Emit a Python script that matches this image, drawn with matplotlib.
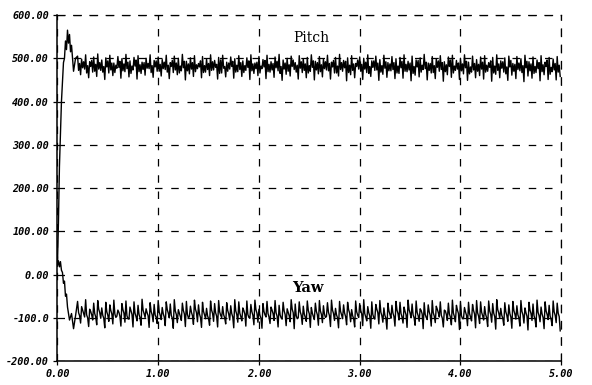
#!/usr/bin/env python3
# -*- coding: utf-8 -*-

import numpy as np
import matplotlib
matplotlib.use("Agg")
import matplotlib.pyplot as plt
from matplotlib.font_manager import FontProperties

# start-up transients (time, value)
pitch_start_t = [0.0, 0.01, 0.02, 0.04, 0.06, 0.07, 0.08, 0.09, 0.10, 0.11, 0.12, 0.13, 0.14, 0.16, 0.18]
pitch_start_v = [20, 120, 250, 400, 490, 500, 540, 520, 565, 535, 555, 515, 530, 470, 500]

yaw_start_t = [0.0, 0.01, 0.02, 0.03, 0.04, 0.05, 0.06, 0.07, 0.08, 0.09, 0.10, 0.12, 0.14, 0.16, 0.18]
yaw_start_v = [20, 32, 18, 30, 10, 5, -20, -15, -50, -45, -75, -105, -90, -125, -95]

# steady oscillation from t = 0.20, every 0.01 s, read as 4-point groups:
# top of upper band, bottom of upper band, top of lower band, bottom of lower band
pitch_top = [
    505, 498, 508, 492, 503, 510, 496, 501, 507, 489, 504, 499, 509, 494, 502, 506, 491, 500, 508, 495,
    503, 497, 507, 490, 505, 500, 509, 493, 501, 506, 488, 504, 498, 508, 495, 502, 507, 491, 503, 499,
    506, 494, 501, 508, 489, 504, 497, 507, 492, 503, 509, 496, 500, 505, 490, 506, 499, 502, 508, 493,
    504, 498, 507, 491, 502, 509, 495, 501, 506, 488, 503, 500, 508, 494, 505, 497, 507, 490, 504, 499,
    502, 508, 493, 505, 496, 501, 509, 489, 504, 498, 506, 492, 503, 507, 495, 500, 508, 491, 505, 497,
    503, 506, 490, 502, 508, 494, 501, 505, 488, 504, 499, 507, 492, 503, 496, 506, 491, 502, 498, 504,
]
pitch_upper_low = [
    472, 478, 466, 481, 470, 475, 468, 480, 473, 467, 479, 471, 476, 465, 482, 469, 474, 477, 467, 480,
    470, 476, 468, 481, 473, 466, 478, 471, 475, 469, 480, 467, 474, 472, 479, 465, 477, 470, 481, 468,
    474, 467, 479, 471, 476, 466, 480, 469, 473, 478, 465, 475, 470, 481, 468, 477, 472, 466, 479, 473,
    469, 476, 471, 480, 466, 474, 478, 467, 472, 481, 470, 475, 465, 479, 473, 468, 477, 471, 474, 466,
    478, 470, 473, 465, 480, 468, 476, 472, 467, 479, 474, 469, 481, 466, 475, 471, 478, 464, 473, 470,
    475, 468, 479, 466, 472, 477, 464, 480, 470, 474, 467, 478, 471, 465, 476, 469, 481, 463, 473, 468,
]
pitch_lower_high = [
    488, 492, 483, 495, 486, 490, 481, 494, 489, 484, 493, 487, 491, 482, 496, 485, 490, 488, 483, 494,
    486, 491, 484, 495, 489, 482, 493, 487, 490, 485, 494, 483, 488, 492, 486, 496, 481, 489, 493, 484,
    490, 483, 494, 487, 491, 482, 495, 486, 488, 493, 481, 489, 485, 496, 484, 492, 487, 483, 494, 490,
    485, 492, 488, 495, 482, 490, 493, 484, 487, 496, 486, 491, 481, 494, 489, 483, 492, 487, 490, 482,
    493, 486, 489, 481, 495, 484, 491, 488, 483, 494, 490, 485, 496, 482, 489, 487, 493, 480, 488, 486,
    491, 484, 494, 482, 487, 492, 480, 495, 486, 489, 483, 493, 487, 481, 490, 485, 496, 479, 488, 484,
]
pitch_bottom = [
    462, 475, 455, 468, 458, 472, 451, 466, 460, 477, 454, 469, 457, 473, 452, 465, 461, 476, 456, 470,
    459, 474, 453, 467, 462, 471, 450, 464, 458, 476, 455, 468, 460, 473, 452, 466, 457, 475, 454, 469,
    458, 472, 451, 465, 460, 476, 453, 468, 456, 471, 449, 463, 459, 474, 452, 467, 455, 470, 450, 464,
    457, 473, 452, 466, 459, 470, 448, 462, 455, 475, 451, 467, 458, 472, 449, 463, 456, 471, 453, 465,
    454, 469, 448, 461, 457, 474, 450, 466, 453, 470, 447, 462, 456, 472, 451, 464, 449, 468, 455, 460,
    452, 470, 447, 463, 455, 468, 449, 461, 453, 471, 446, 459, 454, 467, 448, 462, 451, 469, 450, 458,
]

yaw_top = [
    -62, -74, -58, -80, -66, -60, -77, -64, -70, -59, -82, -67, -61, -75, -63, -71, -57, -79, -65, -69,
    -60, -76, -63, -68, -58, -81, -66, -62, -73, -59, -70, -64, -78, -61, -67, -60, -74, -65, -72, -58,
    -63, -77, -61, -69, -59, -80, -67, -62, -75, -60, -71, -64, -79, -58, -68, -63, -73, -61, -76, -66,
    -60, -72, -65, -59, -78, -62, -70, -64, -81, -61, -67, -58, -74, -63, -69, -60, -77, -66, -71, -62,
    -64, -75, -59, -68, -61, -79, -65, -70, -60, -73, -63, -82, -66, -59, -71, -62, -76, -64, -69, -60,
    -63, -74, -61, -67, -58, -78, -65, -70, -62, -72, -60, -77, -64, -68, -59, -75, -63, -71, -61, -66,
]
yaw_upper_low = [
    -88, -82, -93, -85, -90, -80, -94, -86, -83, -91, -87, -81, -95, -84, -89, -92, -82, -88, -85, -93,
    -86, -90, -81, -94, -84, -89, -83, -92, -87, -80, -91, -85, -95, -82, -88, -86, -93, -83, -90, -84,
    -89, -83, -92, -86, -81, -94, -85, -90, -82, -88, -93, -84, -87, -80, -95, -86, -91, -83, -89, -85,
    -84, -91, -87, -82, -93, -85, -89, -81, -95, -86, -83, -90, -88, -92, -80, -87, -94, -84, -89, -82,
    -90, -85, -81, -93, -87, -83, -92, -86, -88, -80, -94, -84, -91, -89, -82, -95, -86, -90, -83, -88,
    -87, -92, -84, -89, -81, -94, -86, -90, -83, -93, -85, -88, -82, -95, -87, -91, -84, -96, -86, -89,
]
yaw_lower_high = [
    -95, -90, -100, -93, -98, -88, -101, -94, -91, -99, -96, -89, -102, -92, -97, -100, -90, -95, -93, -99,
    -94, -98, -89, -101, -92, -97, -91, -100, -95, -88, -99, -93, -102, -90, -96, -94, -100, -91, -98, -92,
    -97, -91, -99, -94, -89, -101, -93, -98, -90, -96, -100, -92, -95, -88, -102, -94, -99, -91, -97, -93,
    -92, -99, -95, -90, -100, -93, -97, -89, -102, -94, -91, -98, -96, -100, -88, -95, -101, -92, -97, -90,
    -98, -93, -89, -100, -95, -91, -99, -94, -96, -88, -101, -92, -98, -97, -90, -102, -94, -98, -91, -96,
    -95, -100, -92, -97, -89, -101, -94, -98, -91, -100, -93, -96, -90, -103, -95, -99, -92, -104, -94, -97,
]
yaw_bottom = [
    -112, -98, -120, -105, -116, -101, -123, -108, -114, -96, -119, -110, -103, -121, -107, -117, -99, -122, -109, -113,
    -104, -118, -100, -124, -111, -106, -120, -97, -115, -109, -122, -102, -117, -108, -121, -99, -114, -105, -123, -110,
    -107, -119, -101, -116, -110, -124, -98, -113, -106, -121, -103, -118, -109, -125, -100, -115, -108, -122, -104, -117,
    -111, -97, -120, -106, -123, -102, -116, -109, -121, -99, -118, -107, -124, -103, -114, -110, -126, -101, -119, -105,
    -112, -122, -100, -117, -108, -125, -104, -119, -111, -98, -121, -106, -116, -109, -127, -102, -118, -107, -123, -113,
    -105, -120, -110, -126, -101, -117, -108, -124, -103, -119, -112, -128, -106, -121, -109, -125, -104, -118, -111, -130,
]

x_ticks = [0, 1, 2, 3, 4, 5]
x_labels = ["0.00", "1.00", "2.00", "3.00", "4.00", "5.00"]
y_ticks = [600, 500, 400, 300, 200, 100, 0, -100, -200]
y_labels = ["600.00", "500.00", "400.00", "300.00", "200.00", "100.00", "0.00", "-100.0", "-200.00"]

OSC_START = 0.20
STEP = 0.01


def build(start_t, start_v, top, upper_low, lower_high, bottom):
    groups = np.column_stack([top, upper_low, lower_high, bottom]).ravel()
    t_osc = OSC_START + STEP * np.arange(len(groups))
    return np.concatenate([start_t, t_osc]), np.concatenate([start_v, groups])


def main():
    fig = plt.figure(figsize=(5.92, 3.85), dpi=100)
    ax = fig.add_axes([0.097, 0.062, 0.851, 0.899])

    t, v = build(pitch_start_t, pitch_start_v, pitch_top, pitch_upper_low,
                 pitch_lower_high, pitch_bottom)
    ax.plot(t, v, color="black", lw=1.0)
    t, v = build(yaw_start_t, yaw_start_v, yaw_top, yaw_upper_low,
                 yaw_lower_high, yaw_bottom)
    ax.plot(t, v, color="black", lw=1.0)

    ax.set_xlim(0, 5)
    ax.set_ylim(-200, 600)
    ax.set_xticks(x_ticks)
    ax.set_xticklabels(x_labels)
    ax.set_yticks(y_ticks)
    ax.set_yticklabels(y_labels)

    tick_font = FontProperties(family="DejaVu Sans Mono", weight="bold", style="italic", size=7.3)
    for lab in ax.get_xticklabels() + ax.get_yticklabels():
        lab.set_fontproperties(tick_font)
    ax.tick_params(axis="both", length=3, width=0.9, pad=3, colors="black")

    ax.grid(True, color="black", lw=0.9, linestyle=(0, (6, 7)))
    for side in ("top", "right"):
        ax.spines[side].set_linestyle((0, (6, 7)))
        ax.spines[side].set_linewidth(0.9)
    for side in ("left", "bottom"):
        ax.spines[side].set_linewidth(1.1)

    ax.text(2.52, 547, "Pitch", family="DejaVu Serif", size=10, ha="center", va="center")
    ax.text(2.49, -32, "Yaw", family="DejaVu Serif", weight="bold", size=10.5, ha="center", va="center")

    fig.savefig("out.png", dpi=100)
    plt.close(fig)


if __name__ == "__main__":
    main()
